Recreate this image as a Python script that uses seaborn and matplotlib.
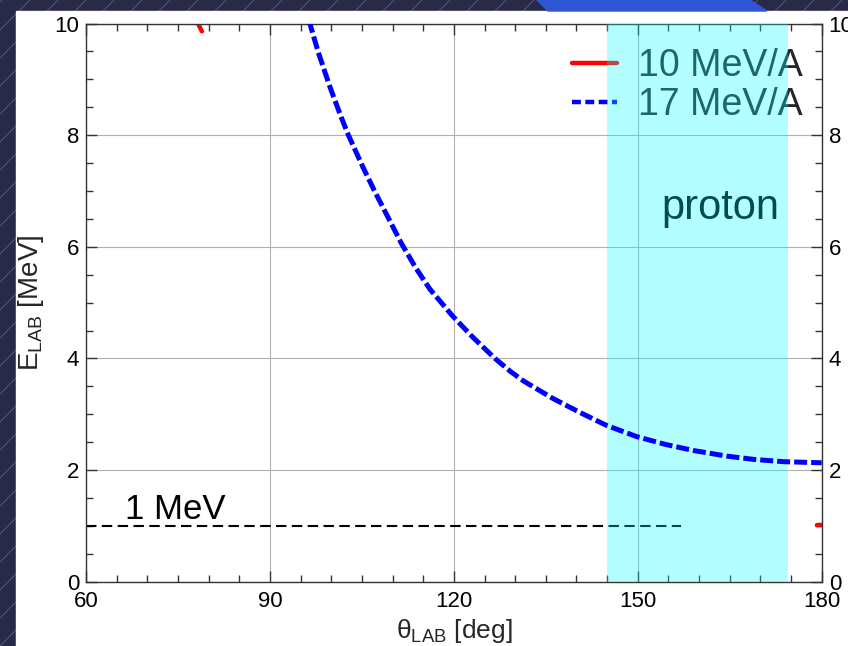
import numpy as np
import pandas as pd
import matplotlib
matplotlib.use("Agg")
import matplotlib.pyplot as plt
import seaborn as sns
from matplotlib.lines import Line2D
from matplotlib.patches import Rectangle, Polygon

# ---------------- data ----------------
theta_17 = [96.35, 97.9, 99.8, 101.7, 102.8, 105.2, 107.1, 109.3, 111.5, 113.8,
            116.1, 119.8, 123.0, 126.7, 129.2, 131.3, 136.2, 140.6, 144.9,
            149.8, 154.5, 159.1, 164.5, 169.0, 173.8, 180.0]
e_17 = [10.06, 9.48, 8.86, 8.30, 8.00, 7.42, 6.99, 6.52, 6.05, 5.62,
        5.24, 4.76, 4.39, 4.00, 3.77, 3.60, 3.28, 3.03, 2.80,
        2.60, 2.46, 2.35, 2.25, 2.19, 2.15, 2.13]

theta_10 = [77.9, 78.9, 179.3, 180.0]
e_10 = [10.08, 9.86, 1.02, 1.02]
seg_10 = [0, 0, 1, 1]

ref_theta = [60.0, 157.0]
ref_e = [1.0, 1.0]
ref_label = "1 MeV"

band_lo, band_hi = 145.0, 174.5
band_label = "proton"

labels = ["10 MeV/A", "17 MeV/A"]
xticks = [60, 90, 120, 150, 180]
yticks = [0, 2, 4, 6, 8, 10]

df17 = pd.DataFrame({"theta": theta_17, "E": e_17})
df10 = pd.DataFrame({"theta": theta_10, "E": e_10, "seg": seg_10})
dfref = pd.DataFrame({"theta": ref_theta, "E": ref_e})

# ---------------- style ----------------
sns.set_theme(style="ticks")
plt.rcParams["font.family"] = ["Liberation Sans", "DejaVu Sans"]
plt.rcParams["mathtext.fontset"] = "custom"
plt.rcParams["mathtext.rm"] = "Liberation Sans"
plt.rcParams["mathtext.it"] = "Liberation Sans:italic"

W, H = 848, 646
fig = plt.figure(figsize=(W / 100, H / 100), dpi=100)
fig.patch.set_facecolor("#282a48")

# slide background
bg = fig.add_axes([0, 0, 1, 1], zorder=-10)
bg.set_xlim(0, W)
bg.set_ylim(H, 0)
bg.axis("off")
bg.set_facecolor("#282a48")
for k in range(-700, W, 28):
    bg.plot([k, k + H], [H, 0], color="#5c5f85", lw=0.6)
bg.add_patch(Rectangle((16, 11), W - 16, H - 11, color="white", zorder=5))
bg.add_patch(Polygon([(537, 0), (548, 11), (767, 11), (750, 0)],
                     closed=True, color="#2d55d4", zorder=5))

# main axes
L, R, T, B = 86, 821.7, 23.5, 581.7
ax = fig.add_axes([L / W, (H - B) / H, (R - L) / W, (B - T) / H])
ax.set_facecolor("white")

sns.lineplot(data=dfref, x="theta", y="E", ax=ax, color="black", lw=1.5,
             linestyle=(0, (5.0, 2.6)), zorder=2)
sns.lineplot(data=df10, x="theta", y="E", units="seg", estimator=None, ax=ax,
             color="red", lw=3.2, zorder=2, sort=False)
sns.lineplot(data=df17, x="theta", y="E", ax=ax, color="blue", lw=3.6,
             linestyle=(0, (2.6, 0.8)), zorder=6)

ax.text(66.3, 1.13, ref_label, fontsize=25, ha="left", va="baseline",
        color="black", zorder=2)
ax.text(163.5, 6.7, band_label, fontsize=30, ha="center", va="center",
        color="black", zorder=2)

# legend
handles = [Line2D([], [], color="red", lw=3.2),
           Line2D([], [], color="blue", lw=3.2, linestyle=(0, (2.0, 1.0)))]
leg = ax.legend(handles, labels, loc="upper left", frameon=False, fontsize=27,
                bbox_to_anchor=(572 / W, (H - 48) / H), bbox_transform=fig.transFigure,
                borderpad=0, borderaxespad=0, handlelength=1.2, handletextpad=0.55,
                labelspacing=0.08)
leg.set_zorder(3)

# cyan band overlaying (blends with what is beneath)
ax.axvspan(band_lo, band_hi, ymin=0, ymax=1, color=(5 / 255, 1, 1), alpha=0.3,
           lw=0, zorder=4)

ax.set_xlim(60, 180)
ax.set_ylim(0, 10)
ax.set_xticks(xticks)
ax.set_yticks(yticks)
ax.set_xticks(np.arange(60, 181, 5), minor=True)
ax.set_yticks(np.arange(0, 10.01, 0.5), minor=True)
ax.grid(True, which="major", color="#b0b0b0", lw=0.8, zorder=0)
ax.set_axisbelow(True)
for s in ax.spines.values():
    s.set_color("#333333")
    s.set_linewidth(1.0)
ax.tick_params(which="both", direction="in", top=True, right=True,
               labelright=True, colors="#333333", labelcolor="black")
ax.tick_params(which="major", length=8, width=1.0, labelsize=16)
ax.tick_params(which="minor", length=5, width=1.0)
ax.tick_params(axis="x", pad=7)
ax.tick_params(axis="y", pad=5)

ax.set_xlabel("θ$_{\\mathrm{LAB}}$ [deg]", fontsize=19, labelpad=3)
ax.set_ylabel("E$_{\\mathrm{LAB}}$ [MeV]", fontsize=20, labelpad=6)

fig.savefig("out.png", dpi=100, facecolor=fig.get_facecolor())
